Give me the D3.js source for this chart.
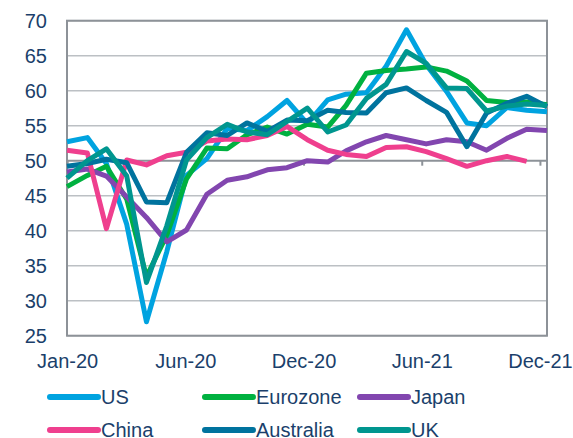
<!DOCTYPE html>
<html>
<head>
<meta charset="utf-8">
<script src="https://cdn.jsdelivr.net/npm/d3@7"></script>
<style>
  body { margin: 0; background: #fff; }
  text { font-family: "Liberation Sans", Arial, sans-serif; fill: #1b3f6b; }
</style>
</head>
<body>
<svg width="573" height="438"></svg>
<script>
// months (month-end dates are used for positions)
var months = ["Dec-19", "Jan-20", "Feb-20", "Mar-20", "Apr-20", "May-20", "Jun-20", "Jul-20", "Aug-20",
  "Sep-20", "Oct-20", "Nov-20", "Dec-20", "Jan-21", "Feb-21", "Mar-21", "Apr-21", "May-21", "Jun-21",
  "Jul-21", "Aug-21", "Sep-21", "Oct-21", "Nov-21", "Dec-21"];

var us        = [52.7, 53.3, 49.6, 40.9, 27.0, 37.0, 47.9, 50.3, 54.6, 54.3, 56.3, 58.6, 55.3, 58.7, 59.5, 59.7, 63.5, 68.7, 63.7, 59.9, 55.4, 55.0, 57.6, 57.2, 57.0];
var eurozone  = [46.3, 47.9, 49.2, 44.5, 33.4, 39.4, 47.4, 51.8, 51.7, 53.7, 54.8, 53.8, 55.2, 54.8, 57.9, 62.5, 62.9, 63.1, 63.4, 62.8, 61.4, 58.6, 58.3, 58.4, 58.0];
var japan     = [48.4, 48.8, 47.8, 44.8, 41.9, 38.4, 40.1, 45.2, 47.2, 47.7, 48.7, 49.0, 50.0, 49.8, 51.4, 52.7, 53.6, 53.0, 52.4, 53.0, 52.7, 51.5, 53.2, 54.5, 54.3];
var china     = [51.5, 51.1, 40.3, 50.1, 49.4, 50.7, 51.2, 52.8, 53.1, 53.0, 53.6, 54.9, 53.0, 51.5, 50.9, 50.6, 51.9, 52.0, 51.3, 50.3, 49.2, 50.0, 50.6, 49.9, null];
var australia = [49.2, 49.6, 50.2, 49.7, 44.1, 44.0, 51.2, 54.0, 53.6, 55.4, 54.2, 55.8, 55.7, 57.2, 56.9, 56.8, 59.7, 60.4, 58.6, 56.9, 52.0, 56.8, 58.2, 59.2, 57.7];
var uk        = [47.5, 50.0, 51.7, 47.8, 32.6, 40.7, 50.1, 53.3, 55.2, 54.1, 53.7, 55.6, 57.5, 54.1, 55.1, 58.9, 60.9, 65.6, 63.9, 60.4, 60.3, 57.1, 57.8, 58.1, 57.9];

var seriesNames  = ["US", "Eurozone", "Japan", "China", "Australia", "UK"];
var seriesValues = [us, eurozone, japan, china, australia, uk];
var colors = ["#00a3e0", "#00b140", "#8246af", "#ef3f8e", "#00739e", "#00968f"];

var yTicks = [25, 30, 35, 40, 45, 50, 55, 60, 65, 70];
var xTickLabels = ["Jan-20", "Jun-20", "Dec-20", "Jun-21", "Dec-21"];

var svg = d3.select("svg"),
    plotL = 67, plotR = 547, plotT = 20.7, plotB = 335.7;

var parse = d3.timeParse("%b-%y");
var dates = months.map(function(m) { return d3.timeDay.offset(d3.timeMonth.offset(parse(m), 1), -1); });

var x = d3.scaleTime().domain([dates[0], dates[dates.length - 1]]).range([plotL, plotR]);
var y = d3.scaleLinear().domain([25, 70]).range([plotB, plotT]);

// tick every 180 days from the first label
var start = parse(xTickLabels[0]);
var xTicks = xTickLabels.map(function(l, i) { return d3.timeDay.offset(start, i * 180); });

// gridlines
svg.append("g").selectAll("line")
  .data(yTicks.filter(function(v) { return v !== 50; }))
  .enter().append("line")
    .attr("x1", plotL).attr("x2", plotR)
    .attr("y1", function(d) { return y(d); }).attr("y2", function(d) { return y(d); })
    .attr("stroke", "#bcc0c4").attr("stroke-width", 1.6);

// plot border
svg.append("rect")
  .attr("x", plotL).attr("y", plotT)
  .attr("width", plotR - plotL).attr("height", plotB - plotT)
  .attr("fill", "none").attr("stroke", "#8d9298").attr("stroke-width", 2);

// x axis sitting on 50
var xAxis = svg.append("g").attr("transform", "translate(0," + y(50) + ")");
xAxis.append("line").attr("x1", plotL).attr("x2", plotR)
  .attr("stroke", "#8d9298").attr("stroke-width", 2);
xAxis.selectAll(".tk").data(xTicks).enter().append("line")
  .attr("class", "tk")
  .attr("x1", function(d) { return x(d); }).attr("x2", function(d) { return x(d); })
  .attr("y1", 0).attr("y2", 5)
  .attr("stroke", "#8d9298").attr("stroke-width", 2);

// y labels
svg.append("g").selectAll("text").data(yTicks).enter().append("text")
  .attr("x", 47).attr("y", function(d) { return y(d); })
  .attr("dy", "0.35em")
  .attr("text-anchor", "end")
  .style("font-size", "20px")
  .text(function(d) { return d; });

// x labels at the bottom
svg.append("g").selectAll("text").data(xTicks).enter().append("text")
  .attr("x", function(d) { return x(d); }).attr("y", 368)
  .attr("text-anchor", "middle")
  .style("font-size", "20px")
  .text(function(d, i) { return xTickLabels[i]; });

// lines
var line = d3.line()
  .defined(function(d) { return d != null; })
  .x(function(d, i) { return x(dates[i]); })
  .y(function(d) { return y(d); });

svg.append("g").selectAll("path").data(seriesValues).enter().append("path")
  .attr("d", line)
  .attr("fill", "none")
  .attr("stroke", function(d, i) { return colors[i]; })
  .attr("stroke-width", 5)
  .attr("stroke-linejoin", "round");

// legend, 3 per row
var leg = svg.append("g").selectAll("g").data(seriesNames).enter().append("g")
  .attr("transform", function(d, i) {
    return "translate(" + (48 + (i % 3) * 155) + "," + (397 + Math.floor(i / 3) * 33) + ")";
  });
leg.append("line").attr("x1", 2).attr("x2", 50)
  .attr("stroke", function(d, i) { return colors[i]; })
  .attr("stroke-width", 6).attr("stroke-linecap", "round");
leg.append("text").attr("x", 53).attr("dy", "0.36em")
  .style("font-size", "20px")
  .text(function(d) { return d; });
</script>
</body>
</html>
